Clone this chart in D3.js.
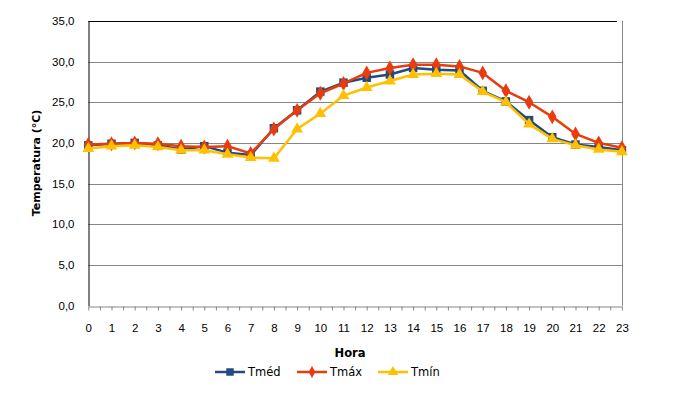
<!DOCTYPE html>
<html>
<head>
<meta charset="utf-8">
<script src="https://cdn.jsdelivr.net/npm/d3@7"></script>
<style>
  body { margin: 0; background: #fff; }
  svg { font-family: "DejaVu Sans", Verdana, sans-serif; }
</style>
</head>
<body>
<svg id="viz" width="681" height="406"></svg>
<script>
/* Data */

const hours = d3.range(0, 24);
const tmed = [19.7, 19.9, 20.0, 19.7, 19.2, 19.6, 18.8, 18.5, 21.8, 24.0, 26.3, 27.4, 28.0, 28.4, 29.2, 29.0, 28.9, 26.4, 25.1, 22.8, 20.7, 19.8, 19.5, 19.1];
const tmax = [19.8, 19.9, 20.0, 19.9, 19.6, 19.5, 19.6, 18.7, 21.7, 24.0, 26.1, 27.3, 28.6, 29.2, 29.6, 29.6, 29.4, 28.6, 26.4, 25.0, 23.2, 21.1, 20.0, 19.4];
const tmin = [19.3, 19.6, 19.7, 19.5, 19.1, 19.1, 18.6, 18.2, 18.1, 21.7, 23.6, 25.8, 26.8, 27.6, 28.4, 28.5, 28.4, 26.3, 25.0, 22.3, 20.5, 19.7, 19.2, 18.9];
const yTicks = [0, 5, 10, 15, 20, 25, 30, 35];

const series = [
  { name: 'Tméd', values: tmed, color: '#234b80', marker: 'square' },
  { name: 'Tmáx', values: tmax, color: '#e63c0e', marker: 'diamond' },
  { name: 'Tmín', values: tmin, color: '#ffc000', marker: 'triangle' },
];

/* Visualization */

const svg = d3.select('#viz');

const x = d3.scaleLinear().domain([0, 23]).range([88.3, 621.9]);
const y = d3.scaleLinear().domain([0, 35]).range([305.7, 20.8]);

// gridlines
svg.append('g')
  .selectAll('line')
  .data(yTicks.filter((d) => d > 0 && d < 35))
  .join('line')
  .attr('x1', x(0))
  .attr('x2', x(23))
  .attr('y1', (d) => Math.round(y(d)) + 0.5)
  .attr('y2', (d) => Math.round(y(d)) + 0.5)
  .attr('stroke', '#868686')
  .attr('stroke-width', 1);

// plot border top and right
svg.append('line')
  .attr('x1', x(0)).attr('x2', x(23) - 5)
  .attr('y1', Math.round(y(35)) + 0.5).attr('y2', Math.round(y(35)) + 0.5)
  .attr('stroke', '#000');
svg.append('line')
  .attr('x1', Math.round(x(23)) + 0.5).attr('x2', Math.round(x(23)) + 0.5)
  .attr('y1', y(35)).attr('y2', y(0))
  .attr('stroke', '#868686');

// x axis
const xAxis = svg.append('g')
  .attr('transform', 'translate(0,' + (Math.round(y(0)) + 0.5) + ')')
  .call(
    d3.axisBottom(x)
      .tickValues(d3.range(0, 23.01, 0.5))
      .tickFormat((d) => (Number.isInteger(d) ? d : ''))
      .tickSizeInner(4)
      .tickSizeOuter(0)
      .tickPadding(13)
  );
xAxis.select('.domain').attr('stroke', '#868686');
xAxis.selectAll('.tick line').attr('stroke', '#868686');
xAxis.selectAll('text').attr('font-size', 11.5).attr('fill', '#000').attr('font-family', null);

// y axis
const yAxis = svg.append('g')
  .attr('transform', 'translate(' + (Math.round(x(0)) + 0.5) + ',0)')
  .call(
    d3.axisLeft(y)
      .tickValues(yTicks)
      .tickFormat((d) => d3.format('.1f')(d).replace('.', ','))
      .tickSize(0)
      .tickPadding(14)
  );
yAxis.select('.domain').attr('stroke', '#000');
yAxis.selectAll('text').attr('font-size', 11.5).attr('fill', '#000').attr('font-family', null);

// axis titles
svg.append('text')
  .attr('transform', 'translate(36,163) rotate(-90)')
  .attr('text-anchor', 'middle')
  .attr('dominant-baseline', 'central')
  .attr('font-size', 11)
  .attr('font-weight', 'bold')
  .text('Temperatura (°C)');

svg.append('text')
  .attr('x', 350)
  .attr('y', 353)
  .attr('text-anchor', 'middle')
  .attr('dominant-baseline', 'central')
  .attr('font-size', 11.5)
  .attr('font-weight', 'bold')
  .text('Hora');

// marker shapes
const symbols = {
  square: d3.symbol(d3.symbolSquare, 72),
  diamond: d3.symbol(d3.symbolDiamond, 64),
  triangle: d3.symbol(d3.symbolTriangle, 60),
};
const legendSymbols = {
  square: d3.symbol(d3.symbolSquare, 56),
  diamond: d3.symbol(d3.symbolDiamond, 40),
  triangle: d3.symbol(d3.symbolTriangle, 48),
};

const line = d3.line()
  .x((d, i) => x(hours[i]))
  .y((d) => y(d));

// series
series.forEach((s) => {
  const g = svg.append('g');
  g.append('path')
    .attr('d', line(s.values))
    .attr('fill', 'none')
    .attr('stroke', s.color)
    .attr('stroke-width', 2.5)
    .attr('stroke-linejoin', 'round');
  g.selectAll('path.pt')
    .data(s.values)
    .join('path')
    .attr('class', 'pt')
    .attr('transform', (d, i) => 'translate(' + x(hours[i]) + ',' + y(d) + ')')
    .attr('d', symbols[s.marker]())
    .attr('fill', s.color);
});

// legend
const legendX = [215, 297, 378];
const legend = svg.append('g')
  .selectAll('g')
  .data(series)
  .join('g')
  .attr('transform', (d, i) => 'translate(' + legendX[i] + ',372)');
legend.append('line')
  .attr('x1', 0).attr('x2', 30)
  .attr('stroke', (d) => d.color)
  .attr('stroke-width', 2.5);
legend.append('path')
  .attr('transform', 'translate(15,0)')
  .attr('d', (d) => legendSymbols[d.marker]())
  .attr('fill', (d) => d.color);
legend.append('text')
  .attr('x', 33)
  .attr('dominant-baseline', 'central')
  .attr('font-size', 11.5)
  .text((d) => d.name);
</script>
</body>
</html>
